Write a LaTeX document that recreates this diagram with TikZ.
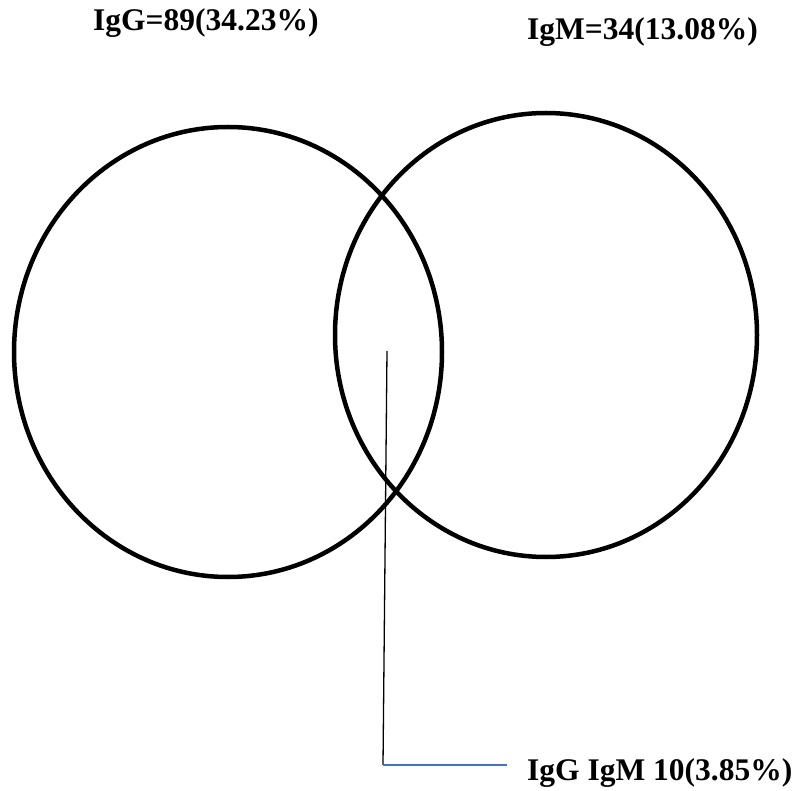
\documentclass[tikz,border=0pt]{standalone}
\usepackage{fontspec}
\setmainfont{Liberation Serif}
\usetikzlibrary{calc,positioning}
\definecolor{leaderblue}{RGB}{68,114,196}
\tikzset{
  setline/.style={draw=black, line width=4.5pt},
  leader/.style={draw=black, line width=1.3pt},
  leaderb/.style={draw=leaderblue, line width=2pt},
  label/.style={font=\fontsize{31.5}{36}\selectfont\bfseries, inner sep=0pt, anchor=base west}
}
\begin{document}
\begin{tikzpicture}[x=1pt,y=-1pt]
  \useasboundingbox (0,0) rectangle (801,791);
  \draw[setline] (228,352) ellipse [x radius=214, y radius=225];
  \draw[setline] (546,335) ellipse [x radius=211, y radius=222];
  \node[label] (igg) at (93,31) {IgG=89(34.23\%)};
  \node[label] (igm) at (527,40) {IgM=34(13.08\%)};
  \node[label] (both) at (527,780) {IgG IgM 10(3.85\%)};
  \coordinate (mid) at (387,351);
  \coordinate (knee) at (383,765);
  \coordinate (tail) at (507,765);
  \draw[leader] (mid) -- (knee);
  \draw[leaderb] (knee) -- (tail);
\end{tikzpicture}
\end{document}
